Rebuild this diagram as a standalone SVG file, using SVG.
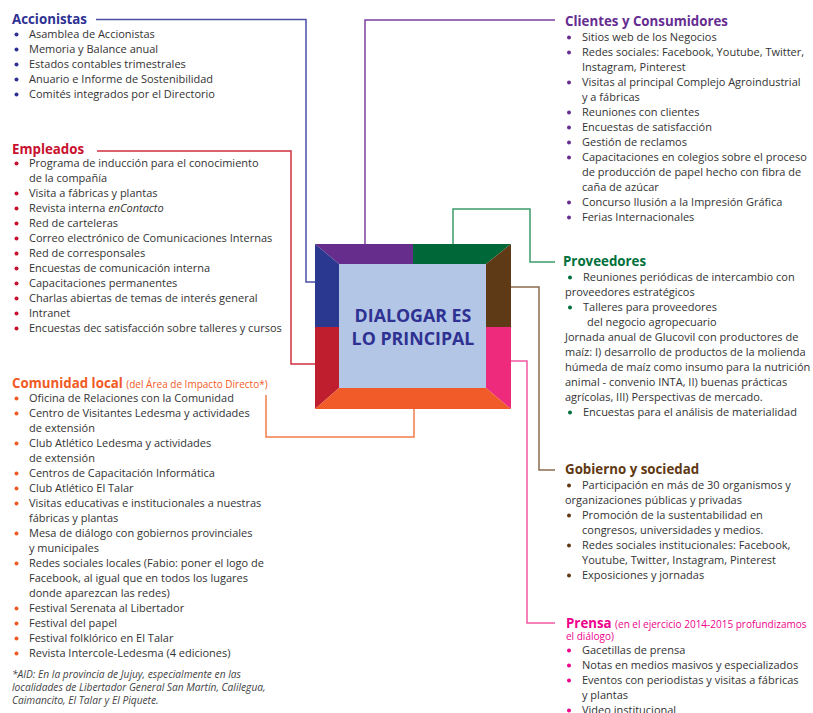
<svg xmlns="http://www.w3.org/2000/svg" width="813" height="713" viewBox="0 0 813 713">
<style>
text{font-family:"Open Sans","Liberation Sans",sans-serif;}
.t{font-size:11px;fill:#333;}
.h{font-size:13.3px;font-weight:700;}
.sub{font-size:10px;font-weight:400;}
.fn{font-size:10.2px;font-style:italic;fill:#444;}
.c{font-size:17.8px;font-weight:700;fill:#2e3192;text-anchor:middle;}
.ln{fill:none;stroke-width:1.5;}
</style>
<rect width="813" height="713" fill="#fff"/>
<g id="connectors">
<path class="ln" stroke="#4b4fa6" d="M96,19.5H306V282H315"/>
<path class="ln" stroke="#d0313f" d="M97,151H291V364H315"/>
<path class="ln" stroke="#f47c4a" d="M266,395V437H414V409"/>
<path class="ln" stroke="#7b3f9e" d="M365,244V20H555"/>
<path class="ln" stroke="#3c9a6b" d="M453,244V209H530V262H555"/>
<path class="ln" stroke="#8b6b4f" d="M511,287H539V470H555"/>
<path class="ln" stroke="#ef5aa2" d="M511,361H527V623H555"/>
</g>
<g id="center">
<polygon fill="#662d8c" points="315,244 413,244 413,264 339,264"/>
<polygon fill="#006838" points="413,244 511,244 486,264 413,264"/>
<polygon fill="#2b388f" points="315,244 339,264 339,327 315,327"/>
<polygon fill="#be1e2d" points="315,327 339,327 339,388 315,409"/>
<polygon fill="#5e3a16" points="511,244 511,327 486,327 486,264"/>
<polygon fill="#ed2a7b" points="511,327 511,409 486,388 486,327"/>
<polygon fill="#f15a29" points="315,409 511,409 486,388 339,388"/>
<rect x="339" y="264" width="147" height="124" fill="#b4c6e6"/>
<text class="c" x="413" y="322">DIALOGAR ES</text>
<text class="c" x="413" y="345">LO PRINCIPAL</text>
</g>
<g id="accionistas">
<text class="h" x="12" y="23.5" fill="#2e3192">Accionistas</text>
<g fill="#2e3192"><circle cx="16.5" cy="34.5" r="2"/><circle cx="16.5" cy="49.5" r="2"/><circle cx="16.5" cy="64.5" r="2"/><circle cx="16.5" cy="79.5" r="2"/><circle cx="16.5" cy="94.5" r="2"/></g>
<text class="t" x="29" y="38">Asamblea de Accionistas</text>
<text class="t" x="29" y="53">Memoria y Balance anual</text>
<text class="t" x="29" y="68">Estados contables trimestrales</text>
<text class="t" x="29" y="83">Anuario e Informe de Sostenibilidad</text>
<text class="t" x="29" y="98">Comités integrados por el Directorio</text>
</g>
<g id="empleados">
<text class="h" x="12" y="153.5" fill="#c8102e">Empleados</text>
<g fill="#c8102e"><circle cx="16.5" cy="163.5" r="2"/><circle cx="16.5" cy="193.5" r="2"/><circle cx="16.5" cy="208.5" r="2"/><circle cx="16.5" cy="223.5" r="2"/><circle cx="16.5" cy="238.5" r="2"/><circle cx="16.5" cy="253.5" r="2"/><circle cx="16.5" cy="268.5" r="2"/><circle cx="16.5" cy="283.5" r="2"/><circle cx="16.5" cy="298.5" r="2"/><circle cx="16.5" cy="313.5" r="2"/><circle cx="16.5" cy="328.5" r="2"/></g>
<text class="t" x="29" y="167">Programa de inducción para el conocimiento</text>
<text class="t" x="29" y="182">de la compañía</text>
<text class="t" x="29" y="197">Visita a fábricas y plantas</text>
<text class="t" x="29" y="212">Revista interna <tspan font-style="italic">enContacto</tspan></text>
<text class="t" x="29" y="227">Red de carteleras</text>
<text class="t" x="29" y="242">Correo electrónico de Comunicaciones Internas</text>
<text class="t" x="29" y="257">Red de corresponsales</text>
<text class="t" x="29" y="272">Encuestas de comunicación interna</text>
<text class="t" x="29" y="287">Capacitaciones permanentes</text>
<text class="t" x="29" y="302">Charlas abiertas de temas de interés general</text>
<text class="t" x="29" y="317">Intranet</text>
<text class="t" x="29" y="332">Encuestas dec satisfacción sobre talleres y cursos</text>
</g>
<g id="comunidad">
<text class="h" x="12" y="388" fill="#f15a24">Comunidad local <tspan class="sub">(del Área de Impacto Directo*)</tspan></text>
<g fill="#f15a24"><circle cx="16.5" cy="398.5" r="2"/><circle cx="16.5" cy="413.5" r="2"/><circle cx="16.5" cy="443.5" r="2"/><circle cx="16.5" cy="473.5" r="2"/><circle cx="16.5" cy="488.5" r="2"/><circle cx="16.5" cy="503.5" r="2"/><circle cx="16.5" cy="533.5" r="2"/><circle cx="16.5" cy="563.5" r="2"/><circle cx="16.5" cy="608.5" r="2"/><circle cx="16.5" cy="623.5" r="2"/><circle cx="16.5" cy="638.5" r="2"/><circle cx="16.5" cy="653.5" r="2"/></g>
<text class="t" x="29" y="402">Oficina de Relaciones con la Comunidad</text>
<text class="t" x="29" y="417">Centro de Visitantes Ledesma y actividades</text>
<text class="t" x="29" y="432">de extensión</text>
<text class="t" x="29" y="447">Club Atlético Ledesma y actividades</text>
<text class="t" x="29" y="462">de extensión</text>
<text class="t" x="29" y="477">Centros de Capacitación Informática</text>
<text class="t" x="29" y="492">Club Atlético El Talar</text>
<text class="t" x="29" y="507">Visitas educativas e institucionales a nuestras</text>
<text class="t" x="29" y="522">fábricas y plantas</text>
<text class="t" x="29" y="537">Mesa de diálogo con gobiernos provinciales</text>
<text class="t" x="29" y="552">y municipales</text>
<text class="t" x="29" y="567">Redes sociales locales (Fabio: poner el logo de</text>
<text class="t" x="29" y="582">Facebook, al igual que en todos los lugares</text>
<text class="t" x="29" y="597">donde aparezcan las redes)</text>
<text class="t" x="29" y="612">Festival Serenata al Libertador</text>
<text class="t" x="29" y="627">Festival del papel</text>
<text class="t" x="29" y="642">Festival folklórico en El Talar</text>
<text class="t" x="29" y="657">Revista Intercole-Ledesma (4 ediciones)</text>
<text class="fn" x="12" y="678">*AID: En la provincia de Jujuy, especialmente en las</text>
<text class="fn" x="12" y="691">localidades de Libertador General San Martín, Calilegua,</text>
<text class="fn" x="12" y="704">Caimancito, El Talar y El Piquete.</text>
</g>
<g id="clientes">
<text class="h" x="565" y="26" fill="#662d91">Clientes y Consumidores</text>
<g fill="#662d91"><circle cx="569" cy="37.5" r="2"/><circle cx="569" cy="52.5" r="2"/><circle cx="569" cy="82.5" r="2"/><circle cx="569" cy="112.5" r="2"/><circle cx="569" cy="127.5" r="2"/><circle cx="569" cy="142.5" r="2"/><circle cx="569" cy="157.5" r="2"/><circle cx="569" cy="202.5" r="2"/><circle cx="569" cy="217.5" r="2"/></g>
<text class="t" x="582" y="41">Sitios web de los Negocios</text>
<text class="t" x="582" y="56">Redes sociales: Facebook, Youtube, Twitter,</text>
<text class="t" x="582" y="71">Instagram, Pinterest</text>
<text class="t" x="582" y="86">Visitas al principal Complejo Agroindustrial</text>
<text class="t" x="582" y="101">y a fábricas</text>
<text class="t" x="582" y="116">Reuniones con clientes</text>
<text class="t" x="582" y="131">Encuestas de satisfacción</text>
<text class="t" x="582" y="146">Gestión de reclamos</text>
<text class="t" x="582" y="161">Capacitaciones en colegios sobre el proceso</text>
<text class="t" x="582" y="176">de producción de papel hecho con fibra de</text>
<text class="t" x="582" y="191">caña de azúcar</text>
<text class="t" x="582" y="206">Concurso Ilusión a la Impresión Gráfica</text>
<text class="t" x="582" y="221">Ferias Internacionales</text>
</g>
<g id="proveedores">
<text class="h" x="563" y="266" fill="#00703c">Proveedores</text>
<g fill="#00703c"><circle cx="570" cy="277.5" r="2"/><circle cx="570" cy="307.5" r="2"/><circle cx="570" cy="412.5" r="2"/></g>
<text class="t" x="583" y="281">Reuniones periódicas de intercambio con</text>
<text class="t" x="565" y="296">proveedores estratégicos</text>
<text class="t" x="583" y="311">Talleres para proveedores</text>
<text class="t" x="587" y="326">del negocio agropecuario</text>
<text class="t" x="565" y="341">Jornada anual de Glucovil con productores de</text>
<text class="t" x="565" y="356">maíz: I) desarrollo de productos de la molienda</text>
<text class="t" x="565" y="371">húmeda de maíz como insumo para la nutrición</text>
<text class="t" x="565" y="386">animal - convenio INTA, II) buenas prácticas</text>
<text class="t" x="565" y="401">agrícolas, III) Perspectivas de mercado.</text>
<text class="t" x="583" y="416">Encuestas para el análisis de materialidad</text>
</g>
<g id="gobierno">
<text class="h" x="565" y="474" fill="#603913">Gobierno y sociedad</text>
<g fill="#603913"><circle cx="569" cy="485.5" r="2"/><circle cx="569" cy="515.5" r="2"/><circle cx="569" cy="545.5" r="2"/><circle cx="569" cy="575.5" r="2"/></g>
<text class="t" x="582" y="489">Participación en más de 30 organismos y</text>
<text class="t" x="565" y="504">organizaciones públicas y privadas</text>
<text class="t" x="582" y="519">Promoción de la sustentabilidad en</text>
<text class="t" x="582" y="534">congresos, universidades y medios.</text>
<text class="t" x="582" y="549">Redes sociales institucionales: Facebook,</text>
<text class="t" x="582" y="564">Youtube, Twitter, Instagram, Pinterest</text>
<text class="t" x="582" y="579">Exposiciones y jornadas</text>
</g>
<g id="prensa">
<text class="h" x="566" y="627.5" fill="#ec008c">Prensa <tspan class="sub">(en el ejercicio 2014-2015 profundizamos</tspan></text>
<text class="sub" x="566" y="639.5" fill="#ec008c">el diálogo)</text>
<g fill="#ec008c"><circle cx="569" cy="650.5" r="2"/><circle cx="569" cy="665.5" r="2"/><circle cx="569" cy="680.5" r="2"/><circle cx="569" cy="710.5" r="2"/></g>
<text class="t" x="582" y="654">Gacetillas de prensa</text>
<text class="t" x="582" y="669">Notas en medios masivos y especializados</text>
<text class="t" x="582" y="684">Eventos con periodistas y visitas a fábricas</text>
<text class="t" x="582" y="699">y plantas</text>
<text class="t" x="582" y="714">Video institucional</text>
</g>
</svg>
